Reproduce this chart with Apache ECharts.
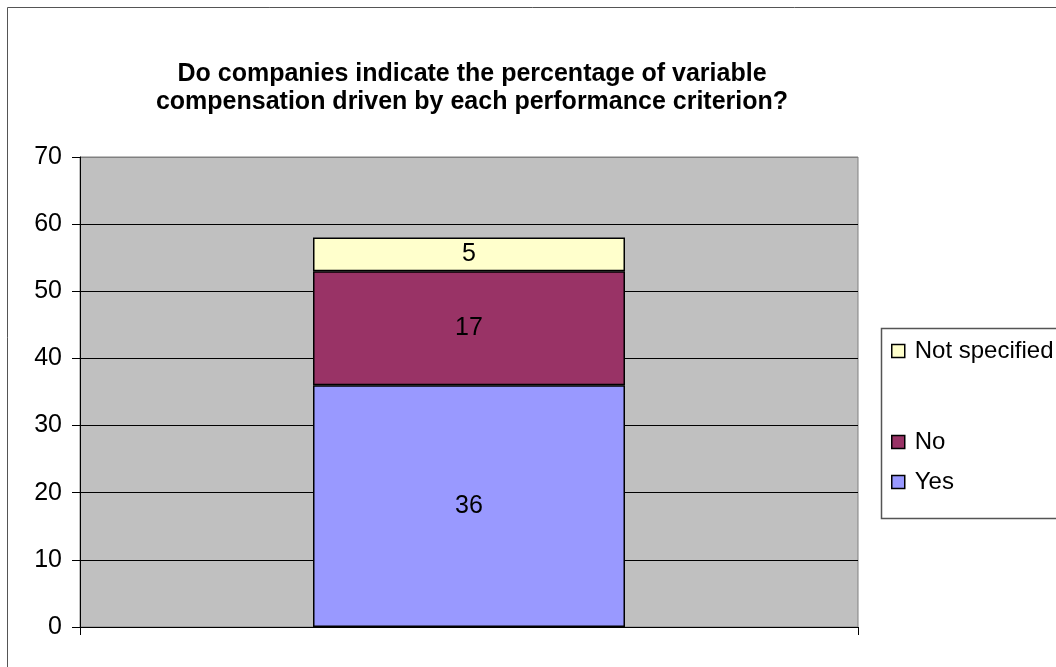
<!DOCTYPE html>
<html>
<head>
<meta charset="utf-8">
<script src="https://cdn.jsdelivr.net/npm/echarts@6/dist/echarts.min.js"></script>
<style>
html,body{margin:0;padding:0;background:#fff;}
#chart{width:1056px;height:667px;}
</style>
</head>
<body>
<div id="chart"></div>
<script>
var categories = [''];
var yesValues = [36];
var noValues = [17];
var notSpecifiedValues = [5];
var seriesNames = ['Yes', 'No', 'Not specified'];
var titleText = 'Do companies indicate the percentage of variable\ncompensation driven by each performance criterion?';

var FONT = '"Liberation Sans", Arial, sans-serif';
var chart = echarts.init(document.getElementById('chart'));

function barSeries(name, data, color) {
  return {
    name: name,
    type: 'bar',
    stack: 'total',
    data: data,
    barWidth: 312,
    itemStyle: { color: color, borderColor: '#000', borderWidth: 1.5 },
    label: { show: true, position: 'inside', color: '#000', fontSize: 25, fontFamily: FONT },
    emphasis: { disabled: true }
  };
}

var legendCommon = {
  orient: 'vertical',
  itemWidth: 13,
  itemHeight: 13,
  itemGap: 10,
  icon: 'rect',
  textStyle: { fontSize: 24, fontFamily: FONT, color: '#000', padding: [0, 0, 0, 5] },
  itemStyle: { borderColor: '#000', borderWidth: 1.5 },
  selectedMode: false,
  padding: 0
};

chart.setOption({
  animation: false,
  backgroundColor: '#fff',
  title: {
    text: titleText,
    left: 467,
    textAlign: 'center',
    top: 55,
    textStyle: { fontSize: 25, fontWeight: 'bold', fontFamily: FONT, color: '#000', lineHeight: 28 }
  },
  graphic: [
    { type: 'rect', shape: { x: 7.5, y: 7.5, width: 1100, height: 700 }, style: { fill: 'none', stroke: '#555', lineWidth: 1 }, z: 100 },
    { type: 'rect', shape: { x: 881.5, y: 328.5, width: 200, height: 190 }, style: { fill: '#fff', stroke: '#555', lineWidth: 1.5 }, z: 0 }
  ],
  legend: [
    Object.assign({ data: [seriesNames[2]], left: 891, top: 339 }, legendCommon),
    Object.assign({ data: [seriesNames[1]], left: 891, top: 430 }, legendCommon),
    Object.assign({ data: [seriesNames[0]], left: 891, top: 470 }, legendCommon)
  ],
  grid: {
    left: 80, top: 157, width: 778, height: 470,
    show: true, backgroundColor: '#C0C0C0', borderColor: '#808080', borderWidth: 1,
    containLabel: false
  },
  xAxis: {
    type: 'category',
    data: categories,
    axisLine: { lineStyle: { color: '#000', width: 1 } },
    axisTick: { show: true, length: 8, lineStyle: { color: '#000' } },
    axisLabel: { show: false },
    splitLine: { show: false }
  },
  yAxis: {
    type: 'value',
    min: 0, max: 70, interval: 10,
    axisLine: { show: true, lineStyle: { color: '#000', width: 1 } },
    axisTick: { show: true, length: 8, lineStyle: { color: '#000' } },
    axisLabel: { fontSize: 25, fontFamily: FONT, color: '#000', margin: 18 },
    splitLine: { show: true, lineStyle: { color: ['#000','#000','#000','#000','#000','#000','#000','#808080'], width: 1 } }
  },
  series: [
    barSeries(seriesNames[0], yesValues, '#9999FF'),
    barSeries(seriesNames[1], noValues, '#993366'),
    barSeries(seriesNames[2], notSpecifiedValues, '#FFFFCC')
  ]
});
</script>
</body>
</html>
